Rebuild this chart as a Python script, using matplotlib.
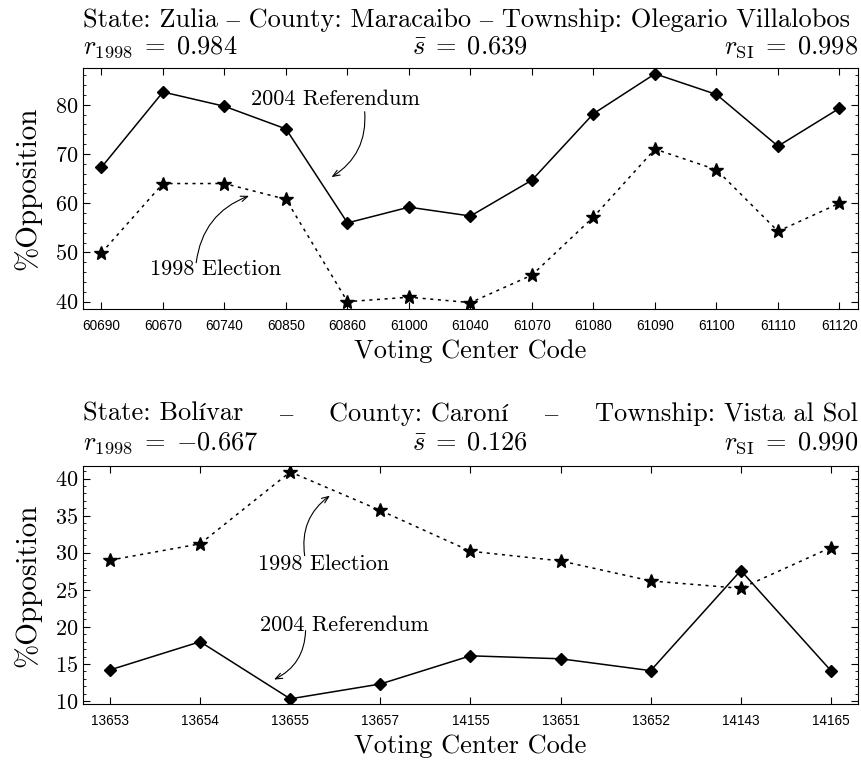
import matplotlib
matplotlib.use("Agg")
import matplotlib.pyplot as plt
from matplotlib.ticker import MultipleLocator

plt.rcParams["font.family"] = ["cmr10", "STIXGeneral"]
plt.rcParams["mathtext.fontset"] = "cm"
plt.rcParams["axes.formatter.use_mathtext"] = True

# Zulia - Maracaibo - Olegario Villalobos
zulia_codes = ["60690", "60670", "60740", "60850", "60860", "61000", "61040",
               "61070", "61080", "61090", "61100", "61110", "61120"]
zulia_2004 = [67.3, 82.6, 79.7, 75.1, 56.0, 59.2, 57.4, 64.7, 78.2, 86.3, 82.1, 71.6, 79.3]
zulia_1998 = [49.9, 64.0, 64.0, 60.8, 40.0, 40.9, 39.8, 45.4, 57.2, 71.0, 66.8, 54.3, 60.0]
zulia_title = ["State: Zulia – County: Maracaibo – Township: Olegario Villalobos"]
zulia_stats = ["0.984", "0.639", "0.998"]

# Bolivar - Caroni - Vista al Sol
bolivar_codes = ["13653", "13654", "13655", "13657", "14155", "13651", "13652",
                 "14143", "14165"]
bolivar_2004 = [14.2, 18.0, 10.3, 12.3, 16.1, 15.7, 14.1, 27.6, 14.1]
bolivar_1998 = [29.0, 31.2, 40.9, 35.7, 30.2, 28.9, 26.2, 25.2, 30.7]
bolivar_title = ["State: Bolívar", "–", "County: Caroní", "–", "Township: Vista al Sol"]
bolivar_stats = ["-0.667", "0.126", "0.990"]

SANS = "Liberation Sans"


def draw_panel(ax, codes, v2004, v1998, ylim, major, minor):
    x = list(range(len(codes)))
    ax.plot(x, v2004, color="black", lw=1.1, marker="D", ms=6.3)
    ax.plot(x, v1998, color="black", lw=1.1, ls=(0, (2, 3)), marker="*", ms=10)
    ax.set_xlim(-0.3, len(codes) - 0.7)
    ax.set_ylim(*ylim)
    ax.set_xticks(x)
    ax.set_xticklabels(codes, fontfamily=SANS, fontsize=9.8)
    ax.yaxis.set_major_locator(MultipleLocator(major))
    ax.yaxis.set_minor_locator(MultipleLocator(minor))
    ax.tick_params(which="both", direction="in", top=True, right=True)
    ax.tick_params(which="major", length=5, width=0.8)
    ax.tick_params(which="minor", length=2.5, width=0.6)
    ax.tick_params(axis="x", pad=7)
    ax.tick_params(axis="y", labelsize=16)
    ax.set_ylabel("%Opposition", fontsize=21, labelpad=10)
    ax.set_xlabel("Voting Center Code", fontsize=19, labelpad=5)


def title_line(fig, ax, parts, y):
    # spread the pieces across the axes width with equal gaps (like \hfill)
    texts = [ax.text(0, y, p, transform=ax.transAxes, fontsize=19,
                     ha="left", va="baseline") for p in parts]
    if len(texts) == 1:
        return
    renderer = fig.canvas.get_renderer()
    axw = ax.get_window_extent(renderer).width
    widths = [t.get_window_extent(renderer).width / axw for t in texts]
    gap = (1 - sum(widths)) / (len(texts) - 1)
    xpos = 0
    for t, w in zip(texts, widths):
        t.set_x(xpos)
        xpos += w + gap


def stats_line(ax, stats, y):
    ax.text(0, y, r"$r_{1998}\;=\;{%s}$" % stats[0], transform=ax.transAxes,
            fontsize=19, ha="left", va="baseline")
    ax.text(0.5, y, r"$\bar{s}\;=\;{%s}$" % stats[1], transform=ax.transAxes,
            fontsize=19, ha="center", va="baseline")
    ax.text(1, y, r"$r_{\mathrm{SI}}\;=\;{%s}$" % stats[2], transform=ax.transAxes,
            fontsize=19, ha="right", va="baseline")


def label_arrow(ax, text, text_xy, start, end):
    ax.text(text_xy[0], text_xy[1], text, fontsize=16, ha="center", va="center")
    ax.annotate("", xy=end, xytext=start,
                arrowprops=dict(arrowstyle="->,head_length=0.5,head_width=0.2",
                                connectionstyle="arc3,rad=-0.3",
                                color="black", lw=0.8,
                                shrinkA=0, shrinkB=0))


fig = plt.figure(figsize=(8.62, 7.63), dpi=100)
ax1 = fig.add_axes([0.0963, 0.595, 0.899, 0.316])
ax2 = fig.add_axes([0.0963, 0.0773, 0.899, 0.312])

draw_panel(ax1, zulia_codes, zulia_2004, zulia_1998, (38.5, 87.5), 10, 2)
title_line(fig, ax1, zulia_title, 1.17)
stats_line(ax1, zulia_stats, 1.058)
label_arrow(ax1, "2004 Referendum", (3.81, 81.2), (4.28, 78.6), (3.74, 65.3))
label_arrow(ax1, "1998 Election", (1.86, 46.5), (1.54, 47.9), (2.40, 61.5))

draw_panel(ax2, bolivar_codes, bolivar_2004, bolivar_1998, (9.6, 41.7), 5, 1)
title_line(fig, ax2, bolivar_title, 1.189)
stats_line(ax2, bolivar_stats, 1.071)
label_arrow(ax2, "1998 Election", (2.37, 28.5), (2.16, 29.6), (2.44, 37.7))
label_arrow(ax2, "2004 Referendum", (2.60, 20.2), (2.17, 19.5), (1.82, 12.9))

fig.savefig("out.png", dpi=100)
